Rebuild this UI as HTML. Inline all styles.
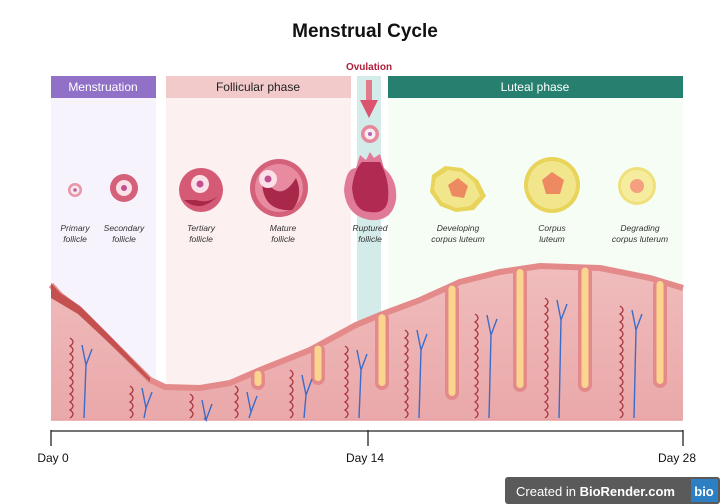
<!DOCTYPE html>
<html><head><meta charset="utf-8"><style>
body{margin:0;background:#fff}
svg{display:block;font-family:"Liberation Sans",sans-serif}
</style></head><body>
<svg width="720" height="504" viewBox="0 0 720 504">
<defs><linearGradient id="tg" x1="0" y1="0" x2="0" y2="1"><stop offset="0" stop-color="#f0bcbc"/><stop offset="1" stop-color="#eaa8aa"/></linearGradient></defs>
<text x="365" y="37" text-anchor="middle" font-size="19" font-weight="bold" fill="#111">Menstrual Cycle</text>
<rect x="51" y="98" width="105" height="290" fill="#f6f3fd"/>
<rect x="166" y="98" width="185" height="290" fill="#fcf0f0"/>
<rect x="388" y="98" width="295" height="290" fill="#f6fdf4"/>
<rect x="357" y="76" width="24" height="344" fill="#d4ece9"/>
<rect x="51" y="76" width="105" height="22" fill="#9170c8"/>
<text x="103" y="91" text-anchor="middle" font-size="12" fill="#fff">Menstruation</text>
<rect x="166" y="76" width="185" height="22" fill="#f2caca"/>
<text x="258" y="91" text-anchor="middle" font-size="12" fill="#222">Follicular phase</text>
<rect x="388" y="76" width="295" height="22" fill="#27806f"/>
<text x="535" y="91" text-anchor="middle" font-size="12" fill="#fff">Luteal phase</text>
<text x="369" y="70" text-anchor="middle" font-size="10" font-weight="bold" fill="#b0203c">Ovulation</text>
<rect x="366" y="80" width="6" height="22" fill="#e07a8c"/>
<polygon points="360,100 378,100 369,118" fill="#d9546c"/>
<circle cx="370" cy="134" r="9" fill="#e6889c"/>
<circle cx="370" cy="134" r="5.5" fill="#fbeaf0"/><circle cx="370" cy="134" r="2" fill="#b066b8"/>
<g>
<circle cx="75" cy="190" r="7" fill="#e697a8"/><circle cx="75" cy="190" r="4.5" fill="#fbe8ee"/><circle cx="75" cy="190" r="1.8" fill="#c060a0"/>
<circle cx="124" cy="188" r="14" fill="#d4607a"/><circle cx="124" cy="188" r="8" fill="#fbe0e8"/><circle cx="124" cy="188" r="3" fill="#c05090"/>
<circle cx="201" cy="190" r="22" fill="#d45a76"/><path d="M184,200 Q200,214 218,196 Q208,204 196,200 Z" fill="#a8284a"/><circle cx="200" cy="184" r="9" fill="#fbe0e8"/><circle cx="200" cy="184" r="3.5" fill="#c05090"/>
<circle cx="279" cy="188" r="29" fill="#d4607a"/><circle cx="279" cy="188" r="24" fill="#e88aa0"/><path d="M262,180 Q262,212 292,210 Q304,196 296,178 Q284,198 272,188 Z" fill="#a8284a"/><circle cx="268" cy="179" r="9" fill="#fbe0e8"/><circle cx="268" cy="179" r="3.5" fill="#c05090"/>
<path d="M344,190 Q346,168 356,168 L360,155 366,160 370,152 374,158 380,154 384,168 Q398,180 396,200 Q392,222 370,220 Q346,216 344,190 Z" fill="#e07a98"/>
<path d="M352,188 Q354,170 362,162 L380,162 Q390,180 388,200 Q386,214 370,212 Q354,212 352,188 Z" fill="#b02a52"/>
<path d="M432,175 L445,166 462,168 478,180 486,196 474,210 456,212 440,206 430,192 Z" fill="#e8d45a"/><path d="M436,178 L448,170 462,172 474,182 480,196 470,206 456,208 442,202 434,190 Z" fill="#f2e68c"/><polygon points="448,185 458,178 468,186 464,198 452,196" fill="#ee8a62"/>
<circle cx="552" cy="185" r="28" fill="#e8d45a"/><circle cx="552" cy="185" r="24" fill="#f2e68c"/><polygon points="542,180 552,172 564,180 560,194 546,194" fill="#ee8a62"/>
<circle cx="637" cy="186" r="19" fill="#f0e07c"/><circle cx="637" cy="186" r="16" fill="#f6ec9e"/><circle cx="637" cy="186" r="7" fill="#f4a080"/>
</g>
<g font-size="8.5" font-style="italic" fill="#333" text-anchor="middle">
<text x="75" y="231">Primary</text><text x="75" y="242">follicle</text>
<text x="124" y="231">Secondary</text><text x="124" y="242">follicle</text>
<text x="201" y="231">Tertiary</text><text x="201" y="242">follicle</text>
<text x="283" y="231">Mature</text><text x="283" y="242">follicle</text>
<text x="370" y="231">Ruptured</text><text x="370" y="242">follicle</text>
<text x="458" y="231">Developing</text><text x="458" y="242">corpus luteum</text>
<text x="552" y="231">Corpus</text><text x="552" y="242">luteum</text>
<text x="640" y="231">Degrading</text><text x="640" y="242">corpus  luterum</text>
</g>
<g id="endo"></g>
<g>
<line x1="51" y1="431" x2="683" y2="431" stroke="#222" stroke-width="1.3"/>
<line x1="51" y1="430" x2="51" y2="446" stroke="#222" stroke-width="1.3"/>
<line x1="368" y1="430" x2="368" y2="446" stroke="#222" stroke-width="1.3"/>
<line x1="683" y1="430" x2="683" y2="446" stroke="#222" stroke-width="1.3"/>
<text x="53" y="462" text-anchor="middle" font-size="12" fill="#111">Day 0</text>
<text x="365" y="462" text-anchor="middle" font-size="12" fill="#111">Day 14</text>
<text x="677" y="462" text-anchor="middle" font-size="12" fill="#111">Day 28</text>
</g>
<g>
<rect x="505" y="477" width="215" height="27" rx="3" fill="#5a5a5a"/>
<text x="516" y="496" font-size="13" fill="#fff">Created in <tspan font-weight="bold">BioRender.com</tspan></text>
<rect x="691" y="479" width="27" height="23" fill="#2d7fc4"/>
<text x="704" y="496" text-anchor="middle" font-size="13" font-weight="bold" fill="#fff">bio</text>
</g>
</svg>
<script>
const profileX=[51,60,80,110,150,165,200,230,260,310,356,380,420,460,500,540,600,650,683];
const profileY=[285,295,310,340,380,387,388,383,370,350,325,315,300,282,272,266,268,278,288];
const glandX=[258,318,382,452,520,585,660];
const glandBottom=[390,385,390,400,392,392,388];
const vesselX=[70,130,190,235,290,345,405,475,545,620];
const vesselTop=[345,388,400,392,375,350,330,315,300,310];
const ns='http://www.w3.org/2000/svg';
const g=document.getElementById('endo');
function topAt(x){for(let i=1;i<profileX.length;i++){if(x<=profileX[i]){const t=(x-profileX[i-1])/(profileX[i]-profileX[i-1]);return profileY[i-1]+t*(profileY[i]-profileY[i-1]);}}return profileY[profileY.length-1];}
function mk(tag,attrs){const e=document.createElementNS(ns,tag);for(const k in attrs)e.setAttribute(k,attrs[k]);g.appendChild(e);return e;}
const topLine=profileX.map((x,i)=>x+','+profileY[i]).join(' L');
const body=mk('path',{d:'M51,420 L'+topLine+' L683,420 Z',fill:'url(#tg)'});


const edge=mk('path',{d:'M'+topLine,fill:'none',stroke:'#e48a8a','stroke-width':6});


const base=mk('line',{x1:51,y1:420,x2:683,y2:420,stroke:'#e8a0a0','stroke-width':1.5});


const shed=mk('path',{d:'M51,283 L60,293 L80,306 L110,336 L150,378 L150,382 L108,342 L78,314 L51,298 Z',fill:'#c45050'});


glandX.forEach((x,i)=>{const t=topAt(x);
 const o=mk('rect',{x:x-7,y:t-2,width:14,height:glandBottom[i]-t+2,rx:7,fill:'#e48a8a'});
 
 
 mk('rect',{x:x-3.5,y:t,width:7,height:glandBottom[i]-t-4,rx:3.5,fill:'#fbd58e'});});
vesselX.forEach((x,i)=>{const t=vesselTop[i];let p='M'+x+',418';for(let y=418;y>t;y-=8){p+=' q6,-4 0,-8';}
 const a=mk('path',{d:p,fill:'none',stroke:'#a8323c','stroke-width':1.3});
 
 
 const v=mk('path',{d:'M'+(x+14)+',418 L'+(x+16)+','+(t+20)+' L'+(x+12)+','+t+' M'+(x+16)+','+(t+20)+' L'+(x+22)+','+(t+4),fill:'none',stroke:'#3a6cc8','stroke-width':1.4});
 
 });
</script>
</body></html>
